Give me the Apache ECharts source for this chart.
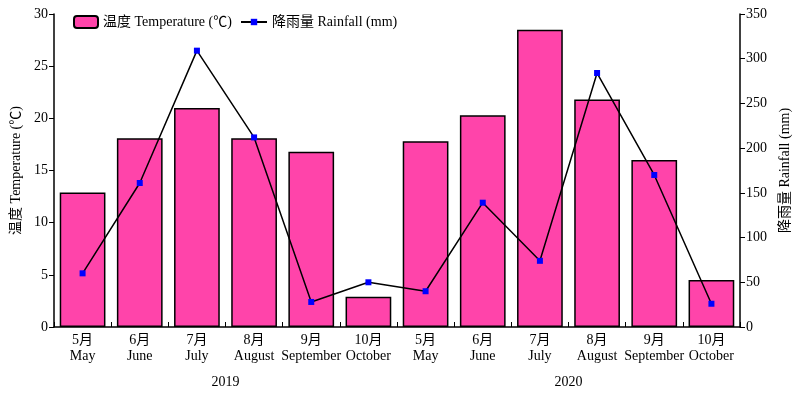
<!DOCTYPE html>
<html>
<head>
<meta charset="utf-8">
<script src="https://cdn.jsdelivr.net/npm/echarts@6/dist/echarts.min.js"></script>
<style>
    html, body { margin: 0; padding: 0; background: #fff; }
    #chart { width: 800px; height: 397px; }
</style>
</head>
<body>
<div id="chart"></div>
<script>
// data
const monthsCn = ['5月', '6月', '7月', '8月', '9月', '10月', '5月', '6月', '7月', '8月', '9月', '10月'];
const monthsEn = ['May', 'June', 'July', 'August', 'September', 'October',
    'May', 'June', 'July', 'August', 'September', 'October'];
const years = ['2019', '2020'];
const temperature = [12.9, 18.1, 21.0, 18.1, 16.8, 2.9, 17.8, 20.3, 28.5, 21.8, 16.0, 4.5];
const rainfall = [60, 161, 309, 212, 28, 50, 40, 139, 74, 284, 170, 26];

const FONT = '"Liberation Serif", "Noto Sans CJK SC", serif';
const TEMP_NAME = '温度 Temperature (℃)';
const RAIN_NAME = '降雨量 Rainfall (mm)';

window.onload = () => {
    let chart = echarts.init(document.getElementById('chart'));
    let categories = monthsCn.map((m, i) => m + '\n' + monthsEn[i]);
    let legendText = { fontFamily: FONT, fontSize: 14, color: '#000' };

    let option = {
        animation: false,
        textStyle: { fontFamily: FONT, color: '#000' },
        // two legends so the line icon can keep a small marker
        legend: [{
            left: 68,
            top: 10,
            itemWidth: 24,
            itemHeight: 12,
            textStyle: legendText,
            data: [TEMP_NAME]
        }, {
            left: 235,
            top: 10,
            itemWidth: 26,
            itemHeight: 8,
            textStyle: legendText,
            data: [RAIN_NAME]
        }],
        grid: { left: 54, right: 60, top: 14, bottom: 70 },
        xAxis: [{
            type: 'category',
            data: categories,
            axisLine: { lineStyle: { color: '#000', width: 1.5 } },
            axisTick: { show: true, inside: true, length: 5, lineStyle: { color: '#000' } },
            axisLabel: {
                color: '#000', fontFamily: FONT, fontSize: 14,
                lineHeight: 16, margin: 5, interval: 0
            }
        }, {
            type: 'category',
            data: years,
            position: 'bottom',
            offset: 40,
            axisLine: { show: false },
            axisTick: { show: false },
            axisLabel: { color: '#000', fontFamily: FONT, fontSize: 14, margin: 8 }
        }],
        yAxis: [{
            type: 'value',
            min: 0, max: 30, interval: 5,
            name: TEMP_NAME,
            nameLocation: 'middle',
            nameGap: 25,
            nameTextStyle: { fontFamily: FONT, fontSize: 14, color: '#000' },
            axisLine: { show: true, lineStyle: { color: '#000', width: 1.5 } },
            axisTick: { show: true, length: 5, lineStyle: { color: '#000' } },
            axisLabel: { color: '#000', fontFamily: FONT, fontSize: 14, margin: 6 },
            splitLine: { show: false }
        }, {
            type: 'value',
            min: 0, max: 350, interval: 50,
            name: RAIN_NAME,
            nameLocation: 'middle',
            nameGap: 36,
            nameRotate: 90,
            nameTextStyle: { fontFamily: FONT, fontSize: 14, color: '#000' },
            axisLine: { show: true, lineStyle: { color: '#000', width: 1.5 } },
            axisTick: { show: true, length: 5, lineStyle: { color: '#000' } },
            axisLabel: { color: '#000', fontFamily: FONT, fontSize: 14, margin: 6 },
            splitLine: { show: false }
        }],
        series: [{
            name: TEMP_NAME,
            type: 'bar',
            xAxisIndex: 0,
            yAxisIndex: 0,
            barCategoryGap: '20%',
            data: temperature,
            itemStyle: { color: '#FF44AA', borderColor: '#000', borderWidth: 1.5 }
        }, {
            name: RAIN_NAME,
            type: 'line',
            xAxisIndex: 0,
            yAxisIndex: 1,
            data: rainfall,
            symbol: 'rect',
            symbolSize: 6,
            itemStyle: { color: '#0000FF' },
            lineStyle: { color: '#000', width: 1.5 }
        }]
    };

    chart.setOption(option);
};
</script>
</body>
</html>
